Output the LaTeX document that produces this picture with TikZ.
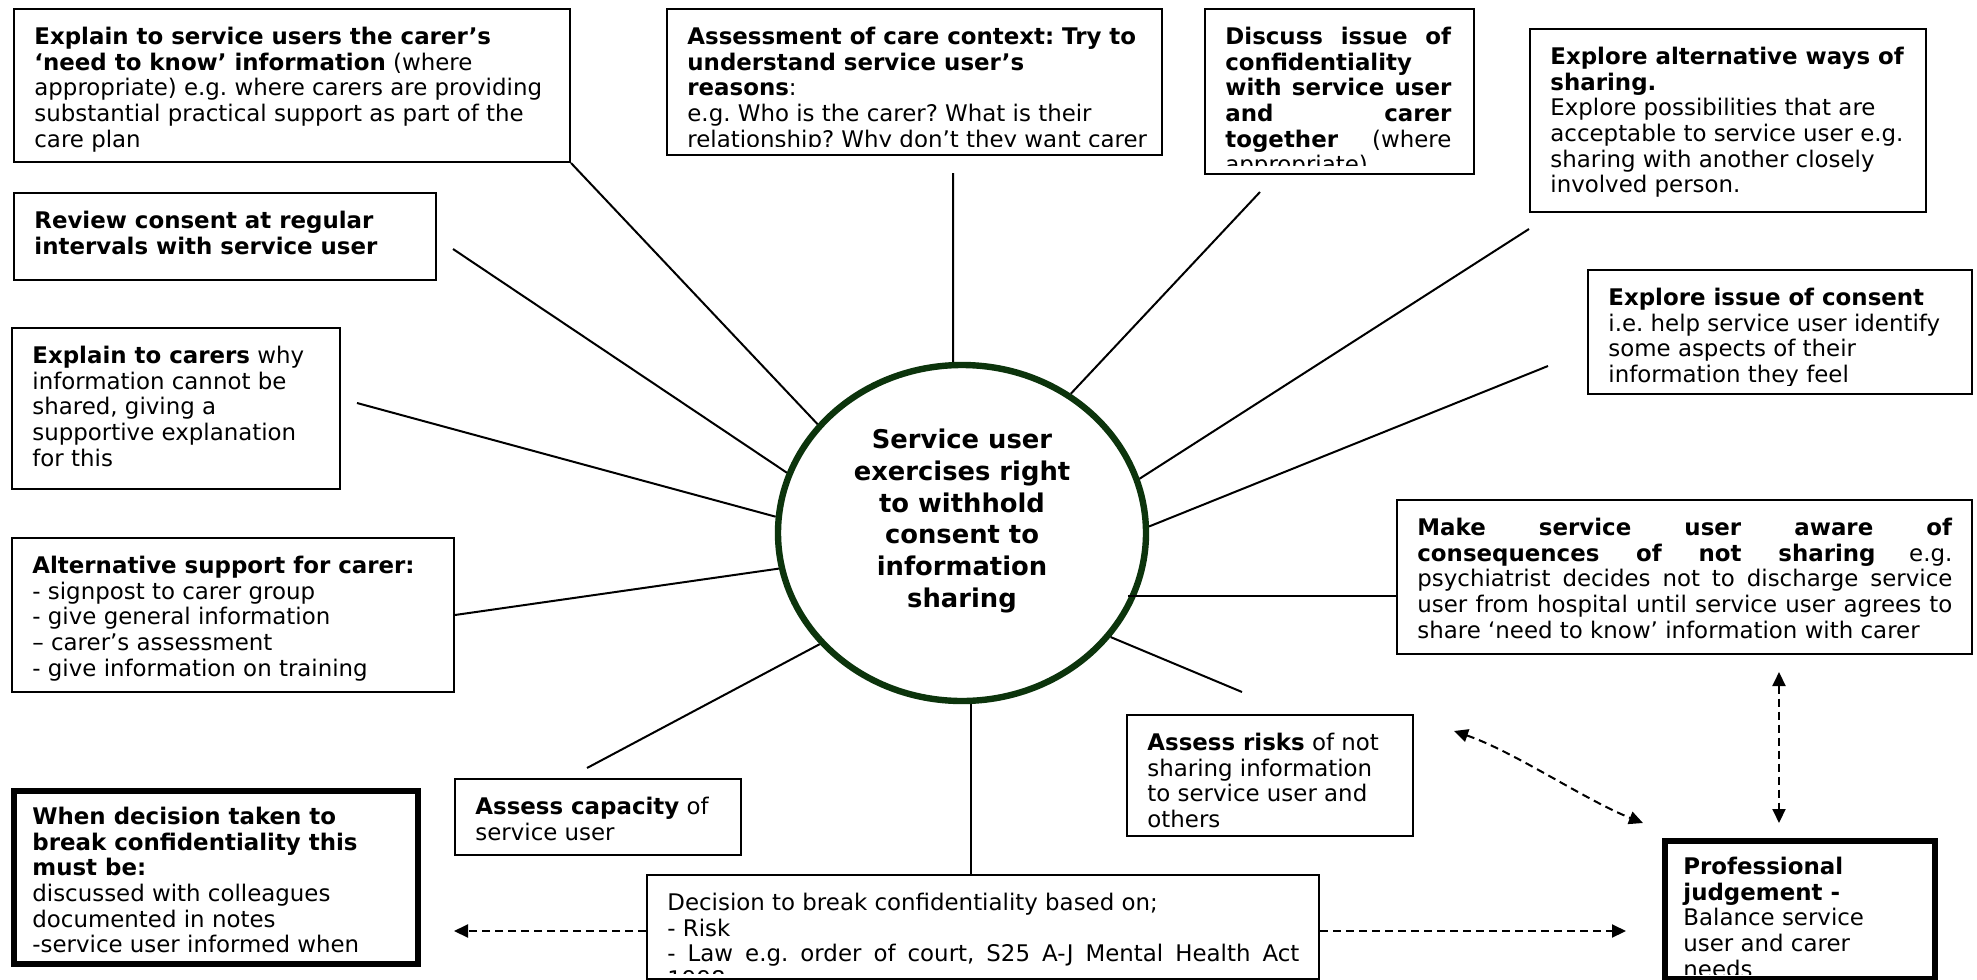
\documentclass[tikz,border=0pt]{standalone}
\usepackage{fontspec}
\setmainfont{DejaVu Sans}
\usepackage{tikz}
\usetikzlibrary{arrows.meta, shapes.geometric, calc}

\definecolor{circleGreen}{RGB}{12,52,12}

\tikzset{
    frame/.style={draw, line width=1pt, inner sep=0pt, anchor=north west},
    thickFrame/.style={frame, line width=3pt},
    boxText/.style={inner sep=0pt, anchor=north west, align=left,
        font=\fontsize{11.45pt}{12.85pt}\selectfont\frenchspacing, execute at begin node=\strut},
    coreText/.style={inner sep=0pt, align=center,
        font=\fontsize{12.9pt}{15.95pt}\selectfont\bfseries},
    spoke/.style={line width=1pt},
    dashArrow/.style={line width=1pt, dash pattern=on 4pt off 2.5pt}
}

%% gap between text clip and lower frame edge (px)
\def\clipGap{10}

%% box with its text clipped to the frame
%% #1 text options, #2 frame style, #3 name, #4 #5 top left, #6 #7 bottom right (px), #8 text
\newcommand{\infoBox}[8][]{%
    \node[#2, minimum width={(#6-#4)*0.5pt}, minimum height={(#7-#5)*0.5pt}] (#3) at (#4, #5) {};
    \begin{scope}
        \clip ($(#3.north west)+(3, 3)$) rectangle ($(#3.south east)+(-3, -\clipGap)$);
        \node[boxText, #1] (#3Text) at ($(#3.north west)+(21, 18.5)$) {#8};
    \end{scope}
}

%% justified line
\newcommand{\spreadLine}[2]{\makebox[#1][s]{#2}}

\begin{document}
\begin{tikzpicture}[x=0.5pt, y=-0.5pt, >={Triangle[length=7pt, width=6.5pt]}]

\path[use as bounding box, fill=white] (0, 0) rectangle (1977, 980);

%%Boxes, left column
\infoBox{frame}{boxNeed}{13}{8}{569}{161}{\textbf{Explain to service users the carer's}\\
    \textbf{`need to know' information} (where\\
    appropriate) e.g. where carers are providing\\
    substantial practical support as part of the\\
    care plan}

\infoBox{frame}{boxReview}{13}{192}{435}{279}{\textbf{Review consent at regular}\\
    \textbf{intervals with service user}}

\infoBox{frame}{boxCarers}{11}{327}{339}{488}{\textbf{Explain to carers} why\\
    information cannot be\\
    shared, giving a\\
    supportive explanation\\
    for this}

\infoBox{frame}{boxSupport}{11}{537}{453}{691}{\textbf{Alternative support for carer:}\\
    - signpost to carer group\\
    - give general information\\
    -- carer's assessment\\
    - give information on training}

\def\clipGap{13}
\infoBox{thickFrame}{boxBreak}{11}{788}{415}{961}{\textbf{When decision taken to}\\
    \textbf{break confidentiality this}\\
    \textbf{must be:}\\
    discussed with colleagues\\
    documented in notes\\
    -service user informed when}
\def\clipGap{10}

\infoBox{frame}{boxCapacity}{454}{778}{740}{854}{\textbf{Assess capacity} of\\
    service user}


%%Boxes, top row
\infoBox{frame}{boxContext}{666}{8}{1161}{154}{\textbf{Assessment of care context: Try to}\\
    \textbf{understand service user's}\\
    \textbf{reasons}:\\
    e.g. Who is the carer? What is their\\
    relationship? Why don't they want carer}

\infoBox{frame}{boxDiscuss}{1204}{8}{1473}{173}{\spreadLine{113pt}{\textbf{Discuss issue of}}\\
    \textbf{confidentiality}\\
    \spreadLine{113pt}{\textbf{with service user}}\\
    \spreadLine{113pt}{\textbf{and carer}}\\
    \spreadLine{113pt}{\textbf{together} (where}\\
    appropriate)}


%%Boxes, right column
\infoBox{frame}{boxWays}{1529}{28}{1925}{211}{\textbf{Explore alternative ways of}\\
    \textbf{sharing.}\\
    Explore possibilities that are\\
    acceptable to service user e.g.\\
    sharing with another closely\\
    involved person.}

\infoBox{frame}{boxConsent}{1587}{269}{1971}{393}{\textbf{Explore issue of consent}\\
    i.e. help service user identify\\
    some aspects of their\\
    information they feel}

\infoBox{frame}{boxAware}{1396}{499}{1971}{653}{\spreadLine{267.5pt}{\textbf{Make service user aware of}}\\
    \spreadLine{267.5pt}{\textbf{consequences of not sharing} e.g.}\\
    \spreadLine{267.5pt}{psychiatrist decides not to discharge service}\\
    \spreadLine{267.5pt}{user from hospital until service user agrees to}\\
    share `need to know' information with carer}

\infoBox{frame}{boxRisks}{1126}{714}{1412}{835}{\textbf{Assess risks} of not\\
    sharing information\\
    to service user and\\
    others}

\def\clipGap{7}
\infoBox{frame}{boxDecide}{646}{874}{1318}{978}{Decision to break confidentiality based on;\\
    - Risk\\
    \spreadLine{316pt}{- Law e.g. order of court, S25 A-J Mental Health Act}\\
    1998}

\def\clipGap{8}
\infoBox{thickFrame}{boxJudge}{1662}{838}{1932}{976}{\textbf{Professional}\\
    \textbf{judgement -}\\
    Balance service\\
    user and carer\\
    needs}


%%Central circle
\node[ellipse, draw=circleGreen, line width=3.2pt, minimum width=184pt,
    minimum height=168pt, inner sep=0pt] (core) at (962, 533) {};
\node[coreText] (coreLabel) at (962, 521) {Service user\\exercises right\\to withhold\\consent to\\information\\sharing};


%%Spokes, free ends
\coordinate (endReview) at (453, 249);
\coordinate (endCarers) at (357, 403);
\coordinate (endCapacity) at (587, 768);
\coordinate (endRisks) at (1242, 692);
\coordinate (endConsent) at (1548, 366);
\coordinate (endWays) at (1529, 229);
\coordinate (endDiscuss) at (1260, 192);
\coordinate (endContext) at (953, 173);
\coordinate (startAware) at ($(core.340)+(-8, 0)$);

\draw[spoke] (core.143) -- (boxNeed.south east);
\draw[spoke] (core.161) -- (endReview);
\draw[spoke] (core.175) -- (endCarers);
\draw[spoke] (core.191) -- (boxSupport.east);
\draw[spoke] (core.218) -- (endCapacity);
\draw[spoke] (core.273) -- (core.273 |- boxDecide.north);
\draw[spoke] (core.325) -- (endRisks);
\draw[spoke] (startAware) -- (startAware -| boxAware.west);
\draw[spoke] (core.2) -- (endConsent);
\draw[spoke] (core.17) -- (endWays);
\draw[spoke] (core.52) -- (endDiscuss);
\draw[spoke] (core.93) -- (endContext);


%%Dashed arrows
\coordinate (tipLeft) at (454, 931);
\coordinate (tipRight) at (1626, 931);
\coordinate (tipUp) at (1779, 672);
\coordinate (tipDown) at (1779, 823);
\coordinate (tipRisk) at (1454, 731);
\coordinate (tipJudge) at (1643, 823);

\draw[dashArrow, ->] (tipLeft -| boxDecide.west) -- (tipLeft);
\draw[dashArrow, ->] (tipRight -| boxDecide.east) -- (tipRight);
\draw[dashArrow, <->] (tipUp) -- (tipDown);
\draw[dashArrow, <->] (tipRisk) .. controls (1515, 752) and (1585, 800) .. (tipJudge);

\end{tikzpicture}
\end{document}
